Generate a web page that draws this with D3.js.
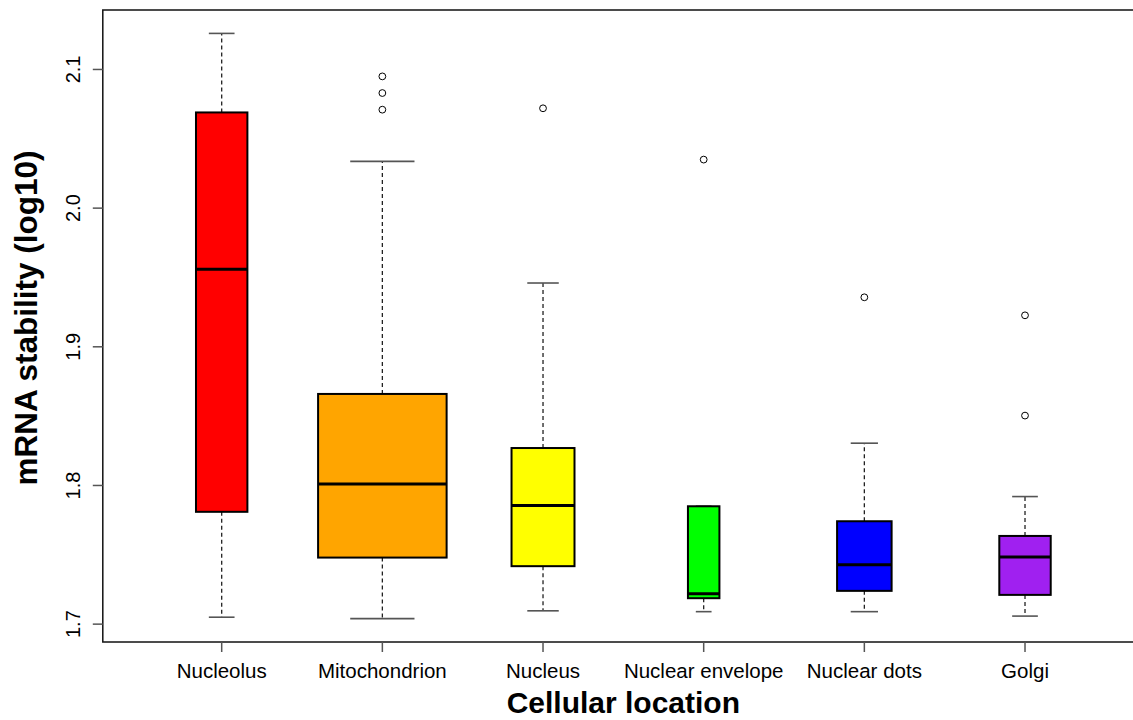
<!DOCTYPE html>
<html>
<head>
<meta charset="utf-8">
<script src="https://cdn.jsdelivr.net/npm/d3@7"></script>
<style>
  html, body { margin: 0; padding: 0; background: #fff; }
  svg { display: block; font-family: "Liberation Sans", Arial, sans-serif; }
</style>
</head>
<body>
<svg id="chart" width="1133" height="720"></svg>
<script>
// ---- data ----
const categories = ["Nucleolus", "Mitochondrion", "Nucleus", "Nuclear envelope", "Nuclear dots", "Golgi"];
const counts     = [16, 100, 24, 6, 18, 16];
const whiskerLow = [1.705, 1.704, 1.7096, 1.709, 1.709, 1.7058];
const q1         = [1.781, 1.748, 1.7418, 1.7187, 1.724, 1.7211];
const medians    = [1.956, 1.801, 1.7855, 1.722, 1.7428, 1.7485];
const q3         = [2.069, 1.866, 1.827, 1.785, 1.7742, 1.7636];
const whiskerHigh= [2.126, 2.0337, 1.946, 1.785, 1.8305, 1.792];
const outliers   = [[], [2.071, 2.083, 2.095], [2.072], [2.035], [1.9357], [1.8504, 1.9227]];
const colors     = ["#FF0000", "#FFA500", "#FFFF00", "#00FF00", "#0000FF", "#A020F0"];
const yTicks     = [1.7, 1.8, 1.9, 2.0, 2.1];
const xTitle = "Cellular location";
const yTitle = "mRNA stability (log10)";

// ---- layout ----
const W = 1133, H = 720;
const plot = { left: 102.8, right: 1143.9, top: 10, bottom: 642 };

const svg = d3.select("#chart");
svg.append("rect").attr("width", W).attr("height", H).attr("fill", "#fff");

// R-like 4% axis extension
const n = categories.length;
const xLo = 0.5, xHi = n + 0.5;
const xPad = (xHi - xLo) * 0.04;
const x = d3.scaleLinear().domain([xLo - xPad, xHi + xPad]).range([plot.left, plot.right]);

const allVals = whiskerLow.concat(whiskerHigh, outliers.flat());
const yMin = d3.min(allVals), yMax = d3.max(allVals);
const yPad = (yMax - yMin) * 0.04;
const y = d3.scaleLinear().domain([yMin - yPad, yMax + yPad]).range([plot.bottom, plot.top]);

const maxSq = d3.max(counts.map(Math.sqrt));
const unit = x(2) - x(1);
const boxW = counts.map(c => 0.8 * unit * Math.sqrt(c) / maxSq);

const data = categories.map((c, i) => ({
  name: c, pos: i + 1, w: boxW[i], lo: whiskerLow[i], q1: q1[i], med: medians[i],
  q3: q3[i], hi: whiskerHigh[i], out: outliers[i], color: colors[i]
}));

const g = svg.append("g");

// whiskers (dashed)
g.selectAll(".wl").data(data).join("line")
  .attr("x1", d => x(d.pos)).attr("x2", d => x(d.pos))
  .attr("y1", d => y(d.q1)).attr("y2", d => y(d.lo))
  .attr("stroke", "#222").attr("stroke-width", 1.3).attr("stroke-dasharray", "4,3");
g.selectAll(".wh").data(data.filter(d => d.hi > d.q3)).join("line")
  .attr("x1", d => x(d.pos)).attr("x2", d => x(d.pos))
  .attr("y1", d => y(d.q3)).attr("y2", d => y(d.hi))
  .attr("stroke", "#222").attr("stroke-width", 1.3).attr("stroke-dasharray", "4,3");

// staples
g.selectAll(".sl").data(data).join("line")
  .attr("x1", d => x(d.pos) - d.w / 4).attr("x2", d => x(d.pos) + d.w / 4)
  .attr("y1", d => y(d.lo)).attr("y2", d => y(d.lo))
  .attr("stroke", "#555").attr("stroke-width", 1.6);
g.selectAll(".sh").data(data).join("line")
  .attr("x1", d => x(d.pos) - d.w / 4).attr("x2", d => x(d.pos) + d.w / 4)
  .attr("y1", d => y(d.hi)).attr("y2", d => y(d.hi))
  .attr("stroke", "#555").attr("stroke-width", 1.6);

// boxes
g.selectAll(".box").data(data).join("rect")
  .attr("x", d => x(d.pos) - d.w / 2).attr("width", d => d.w)
  .attr("y", d => y(d.q3)).attr("height", d => y(d.q1) - y(d.q3))
  .attr("fill", d => d.color).attr("stroke", "#000").attr("stroke-width", 2);

// medians
g.selectAll(".med").data(data).join("line")
  .attr("x1", d => x(d.pos) - d.w / 2).attr("x2", d => x(d.pos) + d.w / 2)
  .attr("y1", d => y(d.med)).attr("y2", d => y(d.med))
  .attr("stroke", "#000").attr("stroke-width", 3);

// outliers
const outPts = data.flatMap(d => d.out.map(v => ({ pos: d.pos, v })));
g.selectAll(".out").data(outPts).join("circle")
  .attr("cx", d => x(d.pos)).attr("cy", d => y(d.v)).attr("r", 3.4)
  .attr("fill", "#fff").attr("stroke", "#000").attr("stroke-width", 1);

// frame
svg.append("rect")
  .attr("x", plot.left).attr("y", plot.top)
  .attr("width", plot.right - plot.left).attr("height", plot.bottom - plot.top)
  .attr("fill", "none").attr("stroke", "#111").attr("stroke-width", 1.5);

// y axis ticks and labels
const yAx = svg.append("g");
yAx.selectAll(".yt").data(yTicks).join("line")
  .attr("x1", plot.left - 10).attr("x2", plot.left)
  .attr("y1", d => y(d)).attr("y2", d => y(d))
  .attr("stroke", "#555").attr("stroke-width", 1.5);
yAx.selectAll(".yl").data(yTicks).join("text")
  .attr("transform", d => `translate(80,${y(d)}) rotate(-90)`)
  .attr("text-anchor", "middle").attr("font-size", 20).attr("fill", "#000")
  .text(d => d.toFixed(1));

// x axis ticks and labels
const xAx = svg.append("g");
xAx.selectAll(".xt").data(data).join("line")
  .attr("x1", d => x(d.pos)).attr("x2", d => x(d.pos))
  .attr("y1", plot.bottom).attr("y2", plot.bottom + 10)
  .attr("stroke", "#555").attr("stroke-width", 1.5);
xAx.selectAll(".xl").data(data).join("text")
  .attr("x", d => x(d.pos)).attr("y", 678)
  .attr("text-anchor", "middle").attr("font-size", 20.5).attr("fill", "#000")
  .text(d => d.name);

// titles
svg.append("text")
  .attr("x", (plot.left + plot.right) / 2).attr("y", 713)
  .attr("text-anchor", "middle").attr("font-size", 30).attr("font-weight", "bold")
  .text(xTitle);
svg.append("text")
  .attr("transform", `translate(37,${(plot.top + plot.bottom) / 2 - 8}) rotate(-90)`)
  .attr("text-anchor", "middle").attr("font-size", 31.5).attr("font-weight", "bold")
  .text(yTitle);
</script>
</body>
</html>
